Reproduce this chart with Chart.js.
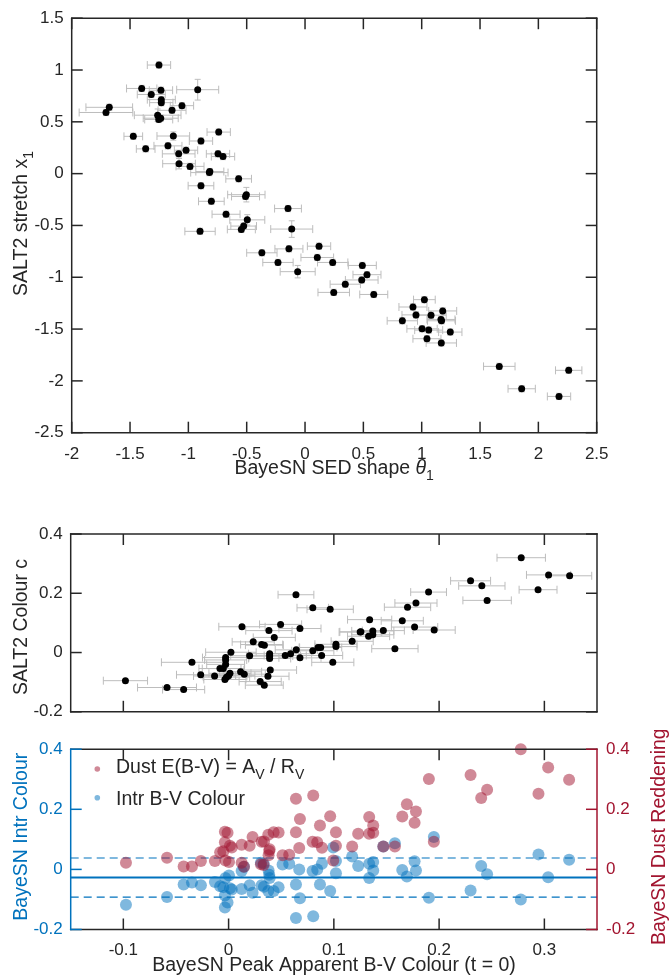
<!DOCTYPE html>
<html lang="en">
<head>
  <meta charset="UTF-8">
  <title>BayeSN vs SALT2</title>
  <style>
    body { margin: 0; background: #ffffff; }
    #wrap { position: relative; width: 672px; height: 978px; }
    #wrap canvas { position: absolute; left: 0; }
  </style>
</head>
<body>
  <div id="wrap">
    <canvas id="shape-chart" width="672" height="485" style="top:0px"></canvas>
    <canvas id="colour-chart" width="672" height="245" style="top:485px"></canvas>
    <canvas id="split-chart" width="672" height="248" style="top:730px"></canvas>
  </div>
  <script src="https://cdn.jsdelivr.net/npm/chart.js"></script>
  <script>
    // --- top panel: BayeSN theta_1 vs SALT2 x_1
    const theta1 = [
      -1.252, -1.40, -1.235, -1.318, -0.92, -1.232, -1.232, -1.678, -1.706, -1.055,
      -1.14, -1.263, -1.237, -1.254, -1.472, -1.129, -0.74, -0.892, -1.366, -1.175,
      -1.02, -1.083, -0.746, -0.703, -1.08, -0.986, -0.82, -0.816, -0.569, -0.892,
      -0.503, -0.51, -0.803, -0.146, -0.677, -0.495, -0.114, -0.526, -0.546, -0.9,
      0.12, -0.138, -0.37, -0.232, 0.105, 0.237, -0.063, 0.491, 0.531, 0.486,
      0.345, 0.246, 0.589, 1.023, 0.925, 1.18, 0.951, 1.08, 1.165, 1.17,
      0.834, 1.003, 1.06, 1.245, 1.045, 1.168, 1.665, 2.26, 1.857, 2.177
    ];
    const x1 = [
      1.048, 0.822, 0.805, 0.764, 0.81, 0.714, 0.685, 0.64, 0.59, 0.656,
      0.611, 0.564, 0.535, 0.523, 0.36, 0.363, 0.401, 0.315, 0.239, 0.268,
      0.226, 0.191, 0.191, 0.165, 0.096, 0.07, 0.01, 0.02, -0.05, -0.117,
      -0.203, -0.22, -0.267, -0.337, -0.392, -0.446, -0.535, -0.506, -0.538, -0.557,
      -0.70, -0.726, -0.764, -0.857, -0.809, -0.857, -0.946, -0.886, -0.975, -1.026,
      -1.067, -1.146, -1.166, -1.216, -1.287, -1.325, -1.363, -1.366, -1.407, -1.42,
      -1.42, -1.497, -1.51, -1.529, -1.593, -1.634, -1.86, -1.898, -2.076, -2.15
    ];
    const theta1Err = [
      0.10, 0.13, 0.10, 0.12, 0.18, 0.12, 0.10, 0.20, 0.23, 0.10,
      0.12, 0.20, 0.15, 0.12, 0.08, 0.14, 0.10, 0.10, 0.08, 0.12,
      0.10, 0.14, 0.10, 0.10, 0.14, 0.12, 0.16, 0.12, 0.11, 0.11,
      0.16, 0.12, 0.11, 0.115, 0.12, 0.15, 0.18, 0.11, 0.12, 0.13,
      0.10, 0.12, 0.13, 0.13, 0.14, 0.13, 0.15, 0.12, 0.12, 0.14,
      0.13, 0.135, 0.12, 0.093, 0.12, 0.12, 0.12, 0.13, 0.12, 0.12,
      0.13, 0.13, 0.12, 0.10, 0.12, 0.13, 0.135, 0.113, 0.117, 0.10
    ];
    const x1Err = [
      0.03, 0.03, 0.03, 0.03, 0.10, 0.03, 0.03, 0.03, 0.03, 0.03,
      0.03, 0.06, 0.03, 0.03, 0.03, 0.04, 0.03, 0.03, 0.03, 0.03,
      0.03, 0.03, 0.03, 0.03, 0.05, 0.03, 0.03, 0.03, 0.03, 0.03,
      0.07, 0.03, 0.03, 0.03, 0.03, 0.05, 0.08, 0.03, 0.03, 0.03,
      0.03, 0.03, 0.03, 0.03, 0.03, 0.03, 0.06, 0.03, 0.03, 0.03,
      0.03, 0.03, 0.03, 0.03, 0.03, 0.03, 0.03, 0.03, 0.03, 0.03,
      0.03, 0.03, 0.03, 0.03, 0.03, 0.03, 0.03, 0.03, 0.03, 0.03
    ];
    const shapeTicksX = [-2, -1.5, -1, -0.5, 0, 0.5, 1, 1.5, 2, 2.5];
    const shapeTicksY = [-2.5, -2, -1.5, -1, -0.5, 0, 0.5, 1, 1.5];

    // --- middle panel: BayeSN peak B-V vs SALT2 c
    const bvPeak = [
      -0.098, -0.0585, -0.0427, -0.0348, -0.0265, -0.0133, -0.0082, -0.005, -0.0028, -0.0028,
      -0.0028, -0.0035, -0.002, 0.0013, 0, 0.0022, 0.0127, 0.0114, 0.0149, 0.02,
      0.0234, 0.0314, 0.034, 0.030, 0.0339, 0.0374, 0.0396, 0.0383, 0.0434, 0.039,
      0.039, 0.039, 0.0494, 0.0538, 0.0589, 0.064, 0.0643, 0.0678, 0.0678, 0.080,
      0.080, 0.085, 0.0875, 0.0884, 0.0965, 0.099, 0.102, 0.102, 0.1174, 0.1257,
      0.134, 0.137, 0.133, 0.137, 0.125, 0.147, 0.158, 0.165, 0.170, 0.178,
      0.1767, 0.19, 0.1953, 0.2299, 0.2406, 0.2456, 0.278, 0.304, 0.324, 0.294
    ];
    const salt2c = [
      -0.095, -0.118, -0.125, -0.033, -0.075, -0.079, -0.054, -0.054, -0.017, -0.025,
      -0.040, -0.091, -0.083, -0.07, -0.078, 0.001, 0.087, -0.065, -0.073, -0.011,
      0.036, 0.027, 0.025, -0.098, -0.11, -0.08, -0.059, 0.074, 0.051, -0.004,
      -0.012, -0.02, 0.095, -0.01, -0.004, 0.195, 0.009, 0.081, -0.018, 0.151,
      0.006, 0.017, 0.017, -0.01, 0.146, -0.033, 0.028, 0.02, 0.038, 0.07,
      0.111, 0.073, 0.055, 0.06, 0.069, 0.074, 0.013, 0.107, 0.153, 0.167,
      0.086, 0.204, 0.076, 0.242, 0.225, 0.176, 0.32, 0.262, 0.259, 0.212
    ];
    const bvPeakErr = [
      0.021, 0.028, 0.02, 0.029, 0.023, 0.02, 0.02, 0.02, 0.022, 0.02,
      0.018, 0.02, 0.022, 0.02, 0.025, 0.024, 0.022, 0.02, 0.02, 0.018,
      0.02, 0.02, 0.018, 0.02, 0.018, 0.02, 0.025, 0.022, 0.02, 0.02,
      0.022, 0.02, 0.02, 0.02, 0.02, 0.017, 0.02, 0.02, 0.02, 0.015,
      0.02, 0.018, 0.02, 0.02, 0.022, 0.02, 0.02, 0.02, 0.02, 0.02,
      0.021, 0.02, 0.02, 0.02, 0.02, 0.02, 0.022, 0.02, 0.022, 0.02,
      0.022, 0.017, 0.02, 0.019, 0.022, 0.023, 0.023, 0.021, 0.021, 0.018
    ];
    const colourTicksX = [-0.1, 0, 0.1, 0.2, 0.3];
    const colourTicksY = [-0.2, 0, 0.2, 0.4];
    const colourMinX = -0.15, colourMaxX = 0.35;

    // --- bottom panel: intrinsic colour and dust reddening
    const bvApparent = [
      -0.0975, -0.0585, -0.0427, -0.0348, -0.0263, -0.013, -0.008, -0.005, -0.0035, -0.001,
      -0.0035, -0.003, 0.0004, 0.0013, 0.003, 0.0124, 0.0124, 0.0146, 0.02, 0.0228,
      0.0314, 0.0336, 0.0307, 0.0333, 0.038, 0.0386, 0.039, 0.0377, 0.0428, 0.0475,
      0.0513, 0.0576, 0.064, 0.0671, 0.064, 0.0678, 0.0804, 0.0798, 0.0842, 0.0868,
      0.0887, 0.0965, 0.0994, 0.102, 0.102, 0.1174, 0.1231, 0.1336, 0.1374, 0.1374,
      0.1336, 0.147, 0.158, 0.165, 0.1694, 0.1767, 0.178, 0.1903, 0.195, 0.2299,
      0.24, 0.2456, 0.2776, 0.2944, 0.3036, 0.3235
    ];
    const intrColour = [
      -0.118, -0.092, -0.05, -0.044, -0.053, -0.042, -0.056, -0.059, -0.087, -0.11,
      -0.127, -0.029, -0.02, -0.063, -0.067, -0.065, -0.005, 0.009, -0.053, -0.078,
      -0.053, -0.058, 0.022, 0.02, -0.004, -0.018, -0.029, -0.072, -0.072, -0.059,
      0.016, 0.019, -0.05, 0, -0.162, -0.096, -0.156, -0.005, 0, -0.05,
      0.019, -0.072, 0.073, -0.013, 0.028, 0.043, 0.011, 0.019, 0.025, -0.004,
      -0.029, 0.076, 0.087, -0.002, -0.024, 0.027, -0.004, -0.094, 0.108, -0.07,
      0.011, -0.016, -0.1, 0.05, -0.026, 0.032
    ];
    const dustEBV = [
      0.022, 0.039, 0.010, 0.010, 0.028, 0.028, 0.057, 0.060, 0.09, 0.122,
      0.125, 0.03, 0.025, 0.079, 0.073, 0.082, 0.022, 0.009, 0.079, 0.108,
      0.092, 0.093, 0.017, 0.015, 0.047, 0.061, 0.067, 0.115, 0.124, 0.123,
      0.047, 0.049, 0.124, 0.071, 0.235, 0.168, 0.246, 0.092, 0.09, 0.146,
      0.072, 0.177, 0.03, 0.124, 0.079, 0.076, 0.119, 0.119, 0.122, 0.146,
      0.174, 0.076, 0.076, 0.176, 0.217, 0.155, 0.193, 0.301, 0.092, 0.314,
      0.2375, 0.265, 0.4, 0.252, 0.339, 0.298
    ];
    const intrMeanLine = -0.027;
    const intrBandLines = [0.038, -0.092];

    const FONT = "'Liberation Sans', Arial, Helvetica, sans-serif";
    const INK = "#262626";
    const BLUE = "#0072BD";
    const RED = "#A2142F";
    const TICK_LEN = 11;
    const LABEL_SIZE = 19.5;

    // text with italic / subscript pieces, drawn at a baseline point
    function drawRich(ctx, item) {
      const size = item.size || LABEL_SIZE;
      const fontFor = s => (s.it ? "italic " : "") + (s.sub ? size * 0.72 : size) + "px " + FONT;
      ctx.save();
      ctx.translate(item.x, item.y);
      ctx.rotate(item.rot || 0);
      ctx.fillStyle = item.color || INK;
      ctx.textAlign = "left";
      ctx.textBaseline = "alphabetic";
      let w = 0;
      item.segs.forEach(s => { ctx.font = fontFor(s); w += ctx.measureText(s.t).width; });
      let cx = item.align === "left" ? 0 : -w / 2;
      item.segs.forEach(s => {
        ctx.font = fontFor(s);
        ctx.fillText(s.t, cx, s.sub ? size * 0.32 : 0);
        cx += ctx.measureText(s.t).width;
      });
      ctx.restore();
    }

    function textLayer(items, dots) {
      return {
        id: "textLayer",
        afterDraw(chart) {
          const ctx = chart.ctx;
          (dots || []).forEach(d => {
            ctx.save();
            ctx.fillStyle = d.color;
            ctx.beginPath();
            ctx.arc(d.x, d.y, d.r, 0, Math.PI * 2);
            ctx.fill();
            ctx.restore();
          });
          items.forEach(it => drawRich(ctx, it));
        }
      };
    }

    // MATLAB style box with inward ticks on every side
    function boxFrame(leftColor, rightColor) {
      return {
        id: "boxFrame",
        afterDatasetsDraw(chart) {
          const { ctx, chartArea: a, scales } = chart;
          const seg = (xa, ya, xb, yb, c) => {
            ctx.strokeStyle = c;
            ctx.beginPath();
            ctx.moveTo(xa, ya);
            ctx.lineTo(xb, yb);
            ctx.stroke();
          };
          ctx.save();
          ctx.lineWidth = 1.5;
          ctx.lineCap = "square";
          seg(a.left, a.top, a.right, a.top, INK);
          seg(a.left, a.bottom, a.right, a.bottom, INK);
          seg(a.left, a.top, a.left, a.bottom, leftColor);
          seg(a.right, a.top, a.right, a.bottom, rightColor);
          ctx.lineCap = "butt";
          scales.x.ticks.forEach(t => {
            const p = scales.x.getPixelForValue(t.value);
            seg(p, a.bottom, p, a.bottom - TICK_LEN, INK);
            seg(p, a.top, p, a.top + TICK_LEN, INK);
          });
          scales.y.ticks.forEach(t => {
            const p = scales.y.getPixelForValue(t.value);
            seg(a.left, p, a.left + TICK_LEN, p, leftColor);
            if (!scales.y2) seg(a.right, p, a.right - TICK_LEN, p, rightColor);
          });
          if (scales.y2) {
            scales.y2.ticks.forEach(t => {
              const p = scales.y2.getPixelForValue(t.value);
              seg(a.right, p, a.right - TICK_LEN, p, rightColor);
            });
          }
          ctx.restore();
        }
      };
    }

    // grey horizontal (and optional vertical) error bars with caps
    function errorBars(xs, ys, xerr, yerr) {
      return {
        id: "errorBars",
        beforeDatasetsDraw(chart) {
          const { ctx, scales: { x, y } } = chart;
          const cap = 4;
          ctx.save();
          ctx.strokeStyle = "#bdbdbd";
          ctx.lineWidth = 1;
          xs.forEach((v, i) => {
            const px = x.getPixelForValue(v);
            const py = y.getPixelForValue(ys[i]);
            const xl = x.getPixelForValue(v - xerr[i]);
            const xr = x.getPixelForValue(v + xerr[i]);
            ctx.beginPath();
            ctx.moveTo(xl, py); ctx.lineTo(xr, py);
            ctx.moveTo(xl, py - cap); ctx.lineTo(xl, py + cap);
            ctx.moveTo(xr, py - cap); ctx.lineTo(xr, py + cap);
            if (yerr) {
              const yt = y.getPixelForValue(ys[i] + yerr[i]);
              const yb = y.getPixelForValue(ys[i] - yerr[i]);
              ctx.moveTo(px, yt); ctx.lineTo(px, yb);
              ctx.moveTo(px - 3, yt); ctx.lineTo(px + 3, yt);
              ctx.moveTo(px - 3, yb); ctx.lineTo(px + 3, yb);
            }
            ctx.stroke();
          });
          ctx.restore();
        }
      };
    }

    function linearAxis(min, max, tickList, fit, extra) {
      return Object.assign({
        type: "linear",
        min: min,
        max: max,
        grid: { display: false, drawTicks: false },
        border: { display: false },
        afterBuildTicks: s => { s.ticks = tickList.map(v => ({ value: v })); },
        afterFit: fit,
        ticks: {
          autoSkip: false,
          maxRotation: 0,
          padding: 8,
          color: INK,
          font: { family: FONT, size: 17 },
          callback: v => String(v)
        }
      }, extra || {});
    }

    function xAxis(min, max, tickList, fit) {
      const ax = linearAxis(min, max, tickList, fit);
      ax.ticks = Object.assign({}, ax.ticks, { padding: 11 });
      return ax;
    }

    const baseOptions = {
      responsive: false,
      animation: false,
      events: []
    };

    // top panel
    new Chart(document.getElementById("shape-chart"), {
      type: "scatter",
      data: {
        datasets: [{
          data: theta1.map((v, i) => ({ x: v, y: x1[i] })),
          backgroundColor: "#000000",
          borderWidth: 0,
          pointRadius: 3.5
        }]
      },
      options: Object.assign({}, baseOptions, {
        layout: { padding: { top: 14, right: 75.3, left: 0, bottom: 0 } },
        plugins: { legend: { display: false }, tooltip: { enabled: false } },
        scales: {
          x: xAxis(-2, 2.5, shapeTicksX, s => { s.height = 52.3; }),
          y: linearAxis(-2.5, 1.5, shapeTicksY, s => { s.width = 71.7; })
        }
      }),
      plugins: [
        errorBars(theta1, x1, theta1Err, x1Err),
        boxFrame(INK, INK),
        textLayer([
          { segs: [{ t: "BayeSN SED shape " }, { t: "\u03B8", it: true }, { t: "1", sub: true }], x: 334.2, y: 474 },
          { segs: [{ t: "SALT2 stretch x" }, { t: "1", sub: true }], x: 27, y: 223.4, rot: -Math.PI / 2 }
        ])
      ]
    });

    // middle panel
    const colourX = linearAxis(colourMinX, colourMaxX, colourTicksX, s => { s.height = 10; });
    colourX.ticks = Object.assign({}, colourX.ticks, { display: false });
    new Chart(document.getElementById("colour-chart"), {
      type: "scatter",
      data: {
        datasets: [{
          data: bvPeak.map((v, i) => ({ x: v, y: salt2c[i] })),
          backgroundColor: "#000000",
          borderWidth: 0,
          pointRadius: 3.5
        }]
      },
      options: Object.assign({}, baseOptions, {
        layout: { padding: { top: 49, right: 75, left: 0, bottom: 0 } },
        plugins: { legend: { display: false }, tooltip: { enabled: false } },
        scales: {
          x: colourX,
          y: linearAxis(-0.2, 0.4, colourTicksY, s => { s.width = 70.7; })
        }
      }),
      plugins: [
        errorBars(bvPeak, salt2c, bvPeakErr, null),
        boxFrame(INK, INK),
        textLayer([
          { segs: [{ t: "SALT2 Colour c" }], x: 27, y: 142, rot: -Math.PI / 2 }
        ])
      ]
    });

    // bottom panel
    const leftY = linearAxis(-0.2, 0.4, colourTicksY, s => { s.width = 70.7; });
    leftY.ticks = Object.assign({}, leftY.ticks, { color: BLUE });
    const rightY = linearAxis(-0.2, 0.4, colourTicksY, s => { s.width = 75; }, { position: "right" });
    rightY.ticks = Object.assign({}, rightY.ticks, { color: RED, padding: 9 });

    new Chart(document.getElementById("split-chart"), {
      type: "scatter",
      data: {
        datasets: [
          {
            label: "Dust E(B-V) = A_V / R_V",
            data: bvApparent.map((v, i) => ({ x: v, y: dustEBV[i] })),
            yAxisID: "y2",
            backgroundColor: "rgba(162, 20, 47, 0.5)",
            borderWidth: 0,
            pointRadius: 6,
            clip: false
          },
          {
            label: "Intr B-V Colour",
            data: bvApparent.map((v, i) => ({ x: v, y: intrColour[i] })),
            yAxisID: "y",
            backgroundColor: "rgba(0, 114, 189, 0.5)",
            borderWidth: 0,
            pointRadius: 6
          },
          {
            type: "line",
            data: [{ x: colourMinX, y: intrMeanLine }, { x: colourMaxX, y: intrMeanLine }],
            yAxisID: "y",
            borderColor: BLUE,
            borderWidth: 1.8,
            pointRadius: 0
          },
          {
            type: "line",
            data: [{ x: colourMinX, y: intrBandLines[0] }, { x: colourMaxX, y: intrBandLines[0] }],
            yAxisID: "y",
            borderColor: BLUE,
            borderWidth: 1.2,
            borderDash: [8, 5],
            pointRadius: 0
          },
          {
            type: "line",
            data: [{ x: colourMinX, y: intrBandLines[1] }, { x: colourMaxX, y: intrBandLines[1] }],
            yAxisID: "y",
            borderColor: BLUE,
            borderWidth: 1.2,
            borderDash: [8, 5],
            pointRadius: 0
          }
        ]
      },
      options: Object.assign({}, baseOptions, {
        layout: { padding: { top: 14, right: 0, left: 0, bottom: 0 } },
        plugins: { legend: { display: false }, tooltip: { enabled: false } },
        scales: {
          x: xAxis(colourMinX, colourMaxX, colourTicksX, s => { s.height = 48.5; }),
          y: leftY,
          y2: rightY
        }
      }),
      plugins: [
        boxFrame(BLUE, RED),
        textLayer([
          { segs: [{ t: "Dust E(B-V) = A" }, { t: "V", sub: true }, { t: " / R" }, { t: "V", sub: true }], x: 116, y: 42.7, align: "left" },
          { segs: [{ t: "Intr B-V Colour" }], x: 116, y: 75.3, align: "left" },
          { segs: [{ t: "BayeSN Peak Apparent B-V Colour (t = 0)" }], x: 334, y: 240.7 },
          { segs: [{ t: "BayeSN Intr Colour" }], x: 27, y: 106.7, rot: -Math.PI / 2, color: BLUE },
          { segs: [{ t: "BayeSN Dust Reddening" }], x: 665, y: 106.7, rot: -Math.PI / 2, color: RED }
        ], [
          { x: 97.3, y: 39, r: 2.8, color: "rgba(162, 20, 47, 0.5)" },
          { x: 97.3, y: 67.7, r: 2.8, color: "rgba(0, 114, 189, 0.5)" }
        ])
      ]
    });
  </script>
</body>
</html>
